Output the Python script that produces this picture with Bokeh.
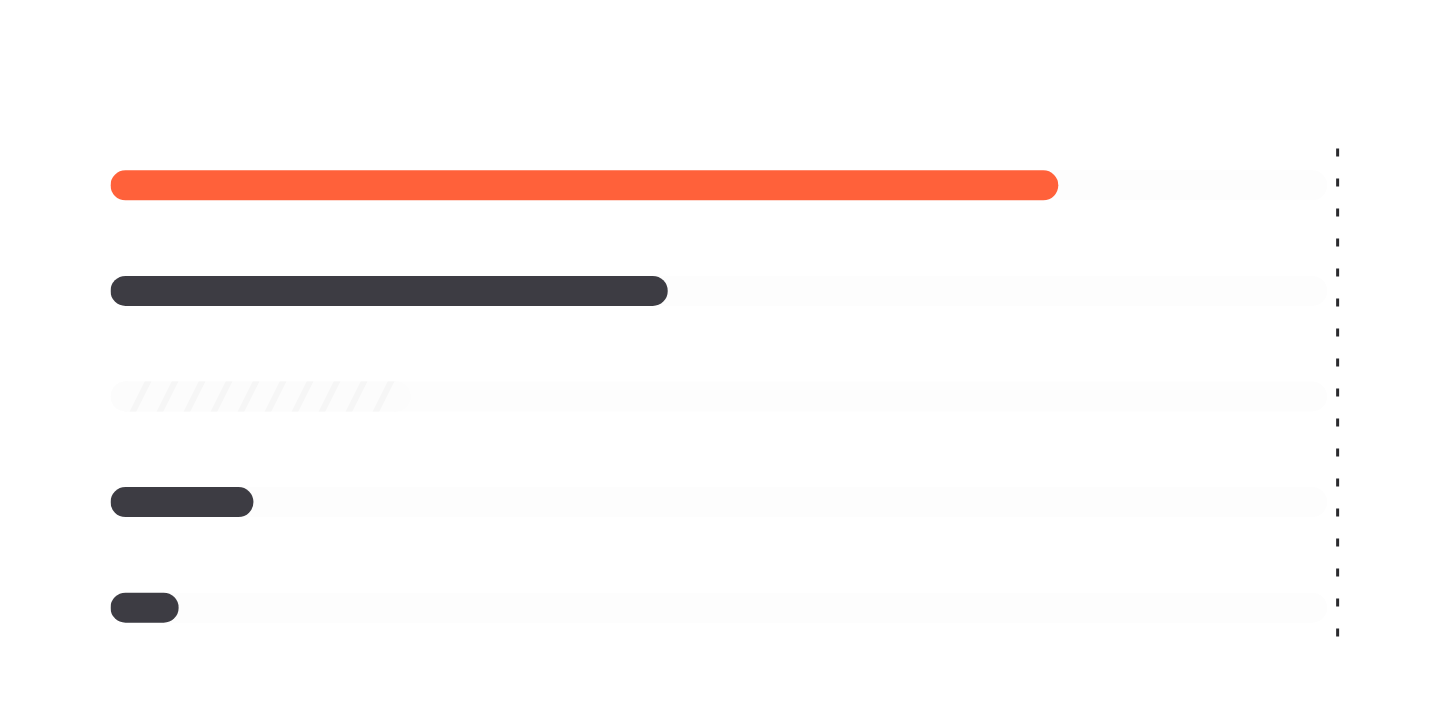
from bokeh.plotting import figure
from bokeh.models import Range1d, ColumnDataSource
from bokeh.embed import file_html
from bokeh.resources import INLINE

# data
categories = ["A", "B", "C", "D", "E"]
values = [77.9, 45.8, 24.7, 11.75, 5.6]
colors = ["#FF613A", "#3D3C43", None, "#3D3C43", "#3D3C43"]
track_max = 100
marker_value = 100.86

px_per_unit = (1327 - 110) / 100.0
cap = 15.0 / px_per_unit
bar_px = 30
frame_right = int(round(110 + 102 * px_per_unit))

p = figure(width=1432, height=716, output_backend="svg", toolbar_location=None,
           x_range=Range1d(0, 102), y_range=Range1d(5.5, 0.5),
           min_border_left=110, min_border_right=1432 - frame_right,
           min_border_top=132, min_border_bottom=716 - 660)
p.axis.visible = False
p.grid.visible = False
p.outline_line_color = None
p.background_fill_color = "white"
p.border_fill_color = "white"

ys = list(range(1, len(categories) + 1))

# tracks
p.segment(x0=[cap] * len(ys), x1=[track_max - cap] * len(ys), y0=ys, y1=ys,
          line_width=bar_px, line_color="#FDFDFD", line_cap="round")

# hatched bar (index 2)
hi = 2
p.scatter(x=[cap, values[hi] - cap], y=[ys[hi], ys[hi]], size=bar_px,
          fill_color="#FCFCFC", line_color=None)
p.hbar(y=[ys[hi]], left=[cap], right=[values[hi] - cap], height=bar_px / 105.5,
       fill_color="#FCFCFC", line_color=None,
       hatch_pattern="right_diagonal_line", hatch_color="#F6F6F6",
       hatch_scale=54, hatch_weight=6)

# solid bars
solid = [i for i in range(len(categories)) if colors[i] is not None]
src = ColumnDataSource(dict(
    x0=[cap] * len(solid),
    x1=[values[i] - cap for i in solid],
    y=[ys[i] for i in solid],
    c=[colors[i] for i in solid],
))
p.segment(x0="x0", x1="x1", y0="y", y1="y", source=src,
          line_width=bar_px, line_color="c", line_cap="round")

# dashed marker line
p.segment(x0=[marker_value], x1=[marker_value], y0=[0.652], y1=[5.32],
          line_width=3, line_color="#2A2A2E", line_dash="8 22")

open("out.html", "w").write(file_html(p, INLINE))
